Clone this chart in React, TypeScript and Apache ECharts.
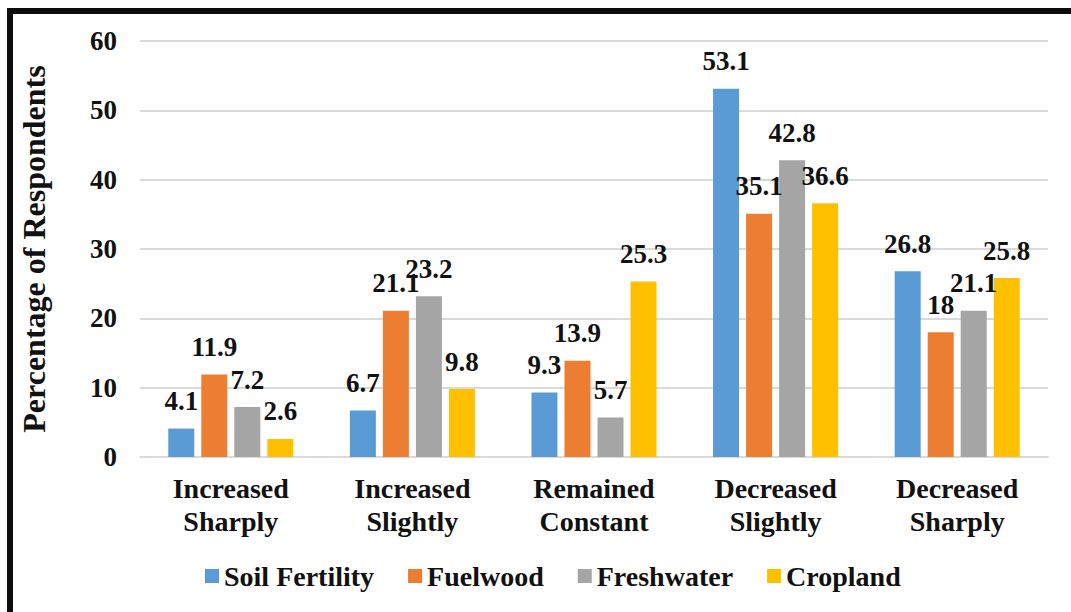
import React, { useEffect, useRef } from "react";
import * as echarts from "echarts";

const categories = ["Increased\nSharply", "Increased\nSlightly", "Remained\nConstant", "Decreased\nSlightly", "Decreased\nSharply"];
const seriesNames = ["Soil Fertility", "Fuelwood", "Freshwater", "Cropland"];
const soilFertility = [4.1, 6.7, 9.3, 53.1, 26.8];
const fuelwood = [11.9, 21.1, 13.9, 35.1, 18];
const freshwater = [7.2, 23.2, 5.7, 42.8, 21.1];
const cropland = [2.6, 9.8, 25.3, 36.6, 25.8];
const colors = ["#5B9BD5", "#ED7D31", "#A5A5A5", "#FFC000"];
const yTicks = { min: 0, max: 60, interval: 10 };

const FONT = "Liberation Serif";

export default function App() {
  const ref = useRef<HTMLDivElement>(null);
  useEffect(() => {
    if (!ref.current) return;
    const chart = echarts.init(ref.current, null, { renderer: "svg" });
    const data = [soilFertility, fuelwood, freshwater, cropland];
    chart.setOption({
      animation: false,
      backgroundColor: "#fff",
      textStyle: { fontFamily: FONT },
      grid: { left: 140, right: 23, top: 41, bottom: 155, containLabel: false },
      legend: {
        bottom: 17,
        left: 200,
        itemWidth: 14,
        itemHeight: 14,
        itemGap: 34,
        icon: "rect",
        textStyle: { fontFamily: FONT, fontSize: 28, fontWeight: "bold", color: "#111" },
        data: seriesNames,
      },
      xAxis: {
        type: "category",
        data: categories,
        axisLine: { lineStyle: { color: "#D9D9D9", width: 2 } },
        axisTick: { show: false },
        axisLabel: {
          fontFamily: FONT, fontSize: 28, fontWeight: "bold", color: "#111",
          margin: 15, lineHeight: 33, interval: 0,
        },
      },
      yAxis: {
        type: "value",
        min: yTicks.min,
        max: yTicks.max,
        interval: yTicks.interval,
        name: "Percentage of Respondents",
        nameLocation: "middle",
        nameGap: 90,
        nameTextStyle: { fontFamily: FONT, fontSize: 32, fontWeight: "bold", color: "#111" },
        axisLine: { show: false },
        axisTick: { show: false },
        splitLine: { lineStyle: { color: "#D9D9D9", width: 2 } },
        axisLabel: { fontFamily: FONT, fontSize: 27, fontWeight: "bold", color: "#111", margin: 23 },
      },
      series: seriesNames.map((n, i) => ({
        name: n,
        type: "bar",
        data: data[i],
        barWidth: 26,
        barGap: "27%",
        itemStyle: { color: colors[i] },
        label: {
          show: true,
          position: "top",
          distance: 14,
          fontFamily: FONT,
          fontSize: 27,
          fontWeight: "bold",
          color: "#111",
        },
      })),
      graphic: [
        {
          type: "rect",
          shape: { x: 10, y: 11, width: 1200, height: 1000 },
          style: { fill: "none", stroke: "#0d0d0d", lineWidth: 6 },
          silent: true,
          z: 100,
        },
      ],
    });
    return () => chart.dispose();
  }, []);
  return (
    <div
      ref={ref}
      style={{ position: "fixed", left: 0, top: 0, width: 1071, height: 612 }}
    />
  );
}
